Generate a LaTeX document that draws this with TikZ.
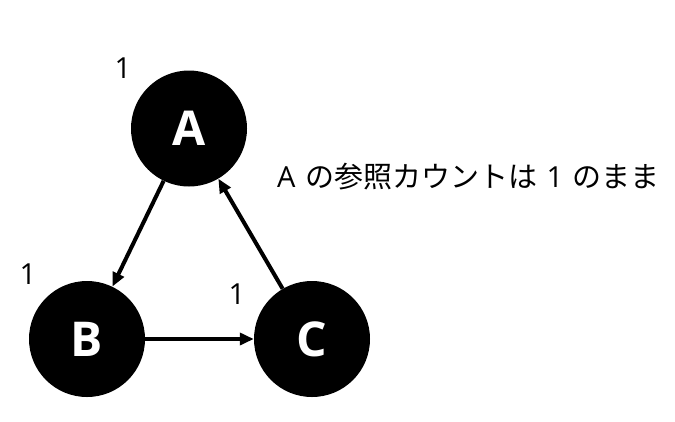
\documentclass[tikz,border=0pt]{standalone}
\usepackage{fontspec}
\setmainfont{Open Sans}
\newfontfamily\cjk{Noto Sans CJK JP}
\usetikzlibrary{arrows.meta}
\begin{document}
\begin{tikzpicture}[x=1pt,y=-1pt,
  refnode/.style={circle,fill=black,minimum size=116pt,inner sep=0pt,text=white,font=\fontsize{48}{52}\selectfont\bfseries},
  countlabel/.style={inner sep=0pt,font=\fontsize{29}{34}\selectfont},
  refarrow/.style={line width=4pt,-{Triangle[length=14pt,width=12pt]}}]
\useasboundingbox (0,0) rectangle (675,421);
\node[refnode] (A) at (189,128.5) {A};
\node[refnode] (B) at (87,339) {B};
\node[refnode] (C) at (312,339) {C};
\node[countlabel] (la) at (123,68) {1};
\node[countlabel] (lb) at (28,274) {1};
\node[countlabel] (lc) at (237,294) {1};
\node[countlabel,anchor=west] (note) at (277,177) {A\hspace{2pt} {\cjk の参照カウントは}\hspace{2pt} 1\hspace{2pt} {\cjk のまま}};
\draw[refarrow] (A) -- (B);
\draw[refarrow] (B) -- (C);
\draw[refarrow] (C) -- (A);
\end{tikzpicture}
\end{document}
